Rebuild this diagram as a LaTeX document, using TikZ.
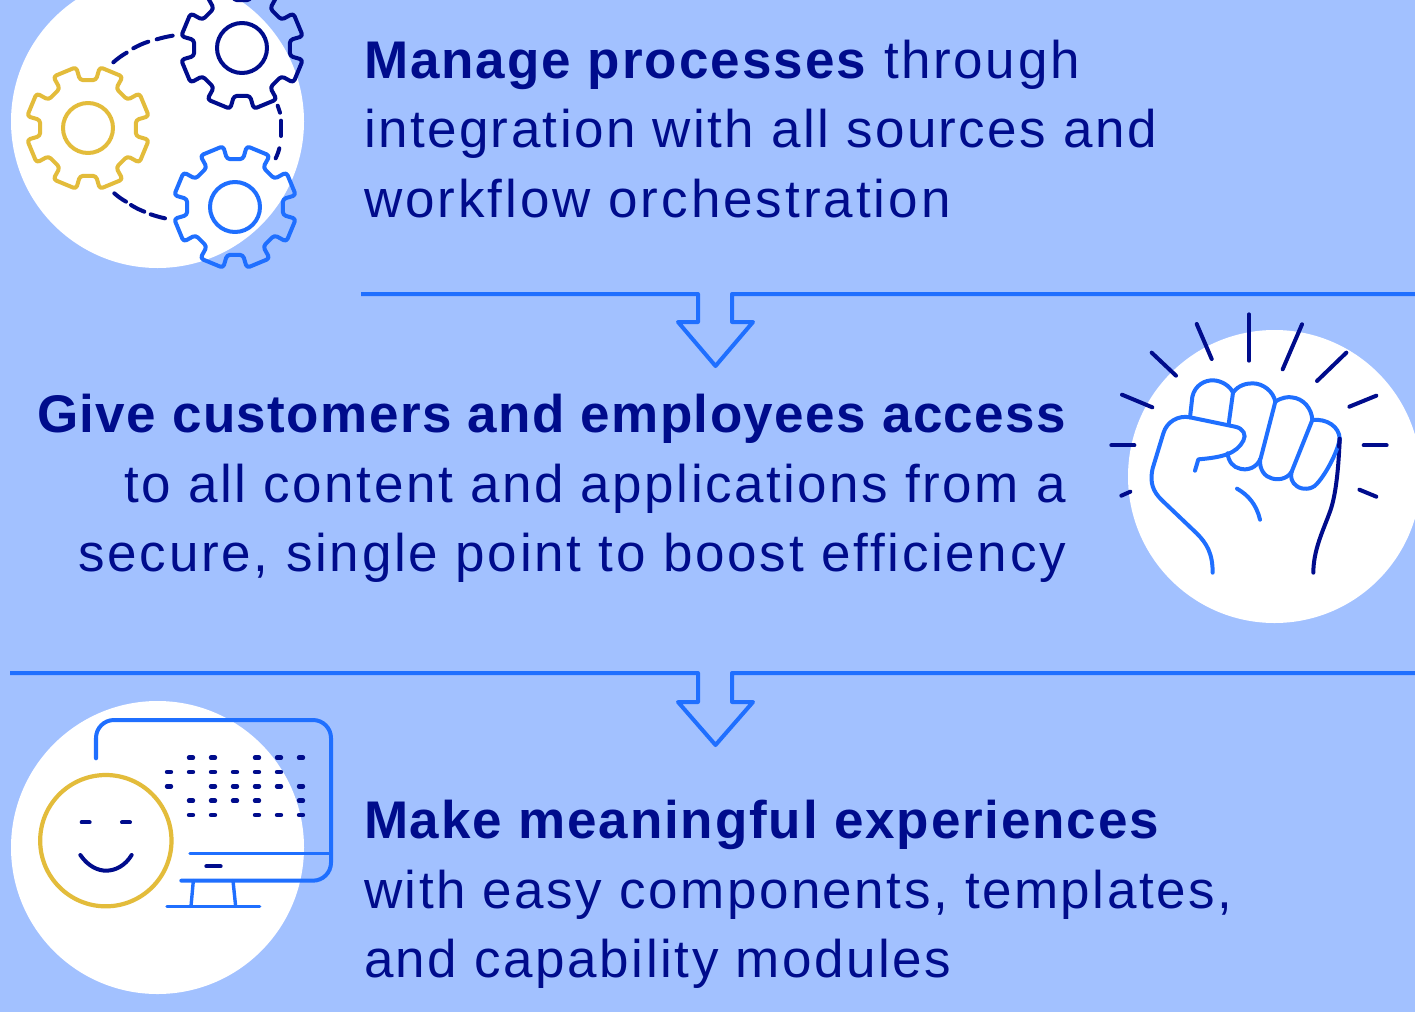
\documentclass[tikz,border=0pt]{standalone}
\usepackage{fontspec}
\setmainfont{Liberation Sans}
\definecolor{bgblue}{HTML}{A2C1FF}
\definecolor{brightblue}{HTML}{1F6FFF}
\definecolor{navy}{HTML}{000C8C}
\definecolor{gold}{HTML}{E3BC3B}
\newcommand{\ls}[1]{\addfontfeature{LetterSpace=#1}}
\tikzset{
  disc/.style={fill=white,draw=none},
  ln/.style={line width=4pt,line cap=round,line join=round},
  thin ln/.style={line width=3.4pt,line cap=round,line join=round},
  txt/.style={text=navy,inner sep=0pt,outer sep=0pt,font=\fontsize{53}{60}\selectfont},
}
\newcommand{\mygear}[3]{%
  \begin{scope}[shift={(#1,#2)}]
  \draw[ln,#3,rounded corners=3.2pt]
   (22.5-13:48.5) -- (22.5-11.5:62) -- (22.5+11.5:62) -- (22.5+13:48.5)
   -- (67.5-13:48.5) -- (67.5-11.5:62) -- (67.5+11.5:62) -- (67.5+13:48.5)
   -- (112.5-13:48.5) -- (112.5-11.5:62) -- (112.5+11.5:62) -- (112.5+13:48.5)
   -- (157.5-13:48.5) -- (157.5-11.5:62) -- (157.5+11.5:62) -- (157.5+13:48.5)
   -- (202.5-13:48.5) -- (202.5-11.5:62) -- (202.5+11.5:62) -- (202.5+13:48.5)
   -- (247.5-13:48.5) -- (247.5-11.5:62) -- (247.5+11.5:62) -- (247.5+13:48.5)
   -- (292.5-13:48.5) -- (292.5-11.5:62) -- (292.5+11.5:62) -- (292.5+13:48.5)
   -- (337.5-13:48.5) -- (337.5-11.5:62) -- (337.5+11.5:62) -- (337.5+13:48.5) -- cycle;
  \draw[ln,#3] (0,0) circle (25);
  \end{scope}}
\begin{document}
\begin{tikzpicture}[x=1pt,y=-1pt]
\useasboundingbox (0,0) rectangle (1415,1012);
\clip (0,0) rectangle (1415,1012);
\fill[bgblue] (0,0) rectangle (1415,1012);
\fill[disc] (157.5,121.5) circle (146.5);
\fill[disc] (1274.5,476.5) circle (146.5);
\fill[disc] (157.5,847.5) circle (146.5);

% gears
\mygear{88}{128}{gold}
\mygear{242}{48}{navy}
\mygear{235}{207}{brightblue}
\begin{scope}[x=1/3 pt,y=-1/3 pt]
\draw[ln,navy] (340,187) to[bend left=5] (380,158);
\draw[ln,navy] (400,145) to[bend left=5] (445,125);
\draw[ln,navy] (470,118) to[bend left=3] (518,107);
\draw[ln,navy] (833,317) to[bend left=5] (840,338);
\draw[ln,navy] (843,362) -- (843,408);
\draw[ln,navy] (838,445) to[bend left=5] (827,475);
\draw[ln,navy] (343,580) to[bend right=5] (378,605);
\draw[ln,navy] (393,615) to[bend right=5] (433,635);
\draw[ln,navy] (452,643) to[bend right=3] (495,655);
\end{scope}

% fist
\begin{scope}[shift={(1100,300)},x=1/3 pt,y=-1/3 pt]
\foreach \xa/\ya/\xb/\yb in {447/43/447/182, 290/72/335/177, 606/73/548/208, 155/158/228/227, 739/158/651/243, 66/284/157/322, 829/287/748/320, 34/436/103/436, 791/436/860/436, 64/587/91/575, 778/569/829/590}
  \draw[ln,navy] (\xa,\ya) -- (\xb,\yb);
\draw[ln,navy] (719,416) .. controls (716,500) and (708,590) .. (688,640) .. controls (670,690) and (640,750) .. (640,818);
\draw[ln,brightblue]
  (338,818) .. controls (338,760) and (320,730) .. (290,700)
  -- (185,600) .. controls (160,575) and (148,550) .. (158,505)
  -- (190,400) .. controls (200,365) and (235,345) .. (270,352)
  -- (405,380) .. controls (430,385) and (440,405) .. (430,422)
  .. controls (410,460) and (370,472) .. (295,478) -- (285,512);
\draw[ln,brightblue] (270,352) -- (277,290) .. controls (285,255) and (315,240) .. (340,241) .. controls (365,242) and (390,258) .. (399,278) -- (386,372);
\draw[ln,brightblue] (399,278) .. controls (415,255) and (440,250) .. (458,250) .. controls (490,250) and (520,275) .. (526,305)
  -- (482,475) .. controls (470,505) and (440,512) .. (420,506) .. controls (400,502) and (385,485) .. (383,460);
\draw[ln,brightblue] (526,305) .. controls (545,292) and (565,290) .. (575,292) .. controls (610,295) and (635,325) .. (637,360)
  -- (575,515) .. controls (560,540) and (530,540) .. (515,535) .. controls (495,530) and (478,510) .. (480,478);
\draw[ln,brightblue] (637,360) .. controls (680,355) and (718,380) .. (719,416)
  .. controls (715,450) and (680,520) .. (650,552) .. controls (635,570) and (605,570) .. (590,558) .. controls (575,548) and (570,530) .. (575,515);
\draw[ln,brightblue] (411,566) .. controls (445,585) and (470,615) .. (480,659);
\draw[ln,navy] (719,416) -- (717,440);
\end{scope}

% monitor & face
\begin{scope}[shift={(0,700)},x=1/3 pt,y=-1/3 pt]
\draw[ln,brightblue,rounded corners=18pt] (288,175) -- (288,60) -- (993,60) -- (993,542) -- (544,542);
\draw[thin ln,brightblue] (570,461) -- (993,461);
\draw[ln,navy] (619,499) -- (662,499);
\draw[thin ln,brightblue] (580,542) -- (573,619);
\draw[thin ln,brightblue] (699,542) -- (707,619);
\draw[thin ln,brightblue] (501,619) -- (779,619);
\foreach \y/\xs in {173/{573,639,771,837,903}, 216/{507,573,639,705,771,837}, 259/{507,639,705,771,837,903}, 302/{573,639,705,771,903}, 345/{573,639,771,837,903}}
  \foreach \x in \xs
    \draw[navy,line width=4.4pt,line cap=round] (\x-6,\y) -- (\x+6,\y);
\draw[ln,gold,line width=4.2pt] (317.5,422) circle[x radius=197,y radius=197];
\draw[ln,navy] (245,367) -- (269,367);
\draw[ln,navy] (366,367) -- (390,367);
\draw[ln,navy] (241,465) .. controls (265,500) and (295,512) .. (318,512) .. controls (345,512) and (375,498) .. (395,465);
\end{scope}

% section rules and arrows
\coordinate (r1a) at (361,294);
\coordinate (r1b) at (1415,294);
\coordinate (r2a) at (10,673);
\coordinate (r2b) at (1415,673);
\draw[ln,brightblue,line cap=butt] (r1a) -- (698,294) -- (698,322) -- (678,322) -- (715.5,366) -- (753,322) -- (732,322) -- (732,294) -- (r1b);
\draw[ln,brightblue,line cap=butt] (r2a) -- (698,673) -- (698,702) -- (678,702) -- (715.5,745) -- (753,702) -- (732,702) -- (732,673) -- (r2b);

% text
\node[txt,anchor=base west] (t11) at (364,78) {\textbf{\ls{3.75}Manage processes}\hspace{16pt}{\ls{5.0}through}};
\node[txt,anchor=base west] (t12) at (364,147) {\ls{4.55}integration with all sources and};
\node[txt,anchor=base west] (t13) at (364,217) {\ls{5.6}workflow orchestration};
\node[txt,anchor=base east] (t21) at (1067.5,432) {\textbf{\ls{2.65}Give customers and employees access}};
\node[txt,anchor=base east] (t22) at (1066,502) {\ls{4.75}to all content and applications from a};
\node[txt,anchor=base east] (t23) at (1066,571) {\ls{5.15}secure, single point to boost efficiency};
\node[txt,anchor=base west] (t31) at (364,838) {\textbf{\ls{3.45}Make meaningful experiences}};
\node[txt,anchor=base west] (t32) at (364,908) {\ls{4.7}with easy components, templates,};
\node[txt,anchor=base west] (t33) at (364,977) {\ls{4.8}and capability modules};
\end{tikzpicture}
\end{document}
